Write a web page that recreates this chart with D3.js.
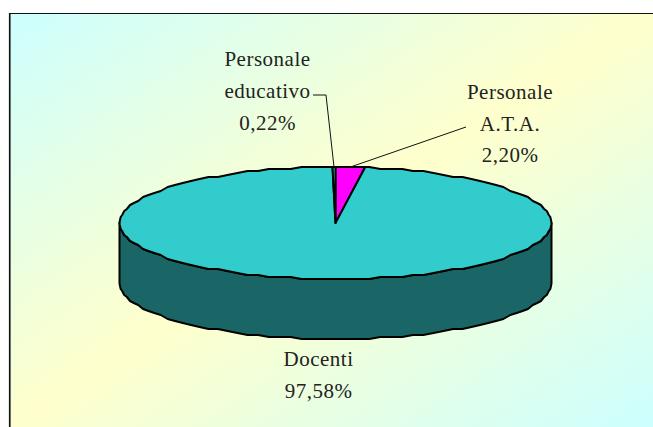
<!DOCTYPE html>
<html><head><meta charset="utf-8">
<script src="https://cdn.jsdelivr.net/npm/d3@7"></script>
<style>html,body{margin:0;padding:0;background:#fff}svg{display:block}
text{font-family:"Liberation Serif",serif;font-size:21px;fill:#222;text-anchor:middle;letter-spacing:.5px}</style>
</head><body><div id="c"></div>
<script>
const categories = ["Personale A.T.A.", "Docenti", "Personale educativo"];
const shares = [2.20, 97.58, 0.22];
const shareLabels = ["2,20%", "97,58%", "0,22%"];
const colors = ["#FF00FF", "#33CCCC", "#33CCCC"];
const sideColor = "#1A6666";

const W = 653, H = 427;
const svg = d3.select("#c").append("svg").attr("width", W).attr("height", H);
const frame = {x: 10, y: 14};
const mid = {x: 331, y: 220}, nrm = {x: .541, y: .841}, reach = 350;
const grad = svg.append("defs").append("linearGradient").attr("id", "bg")
  .attr("gradientUnits", "userSpaceOnUse")
  .attr("x1", mid.x - nrm.x * reach).attr("y1", mid.y - nrm.y * reach)
  .attr("x2", mid.x + nrm.x * reach).attr("y2", mid.y + nrm.y * reach);
grad.selectAll("stop").data([[0, "#CCFFFF"], [.5, "#FFFFCC"], [1, "#CCFFFF"]]).join("stop")
  .attr("offset", d => d[0]).attr("stop-color", d => d[1]);
svg.append("rect").attr("x", frame.x).attr("y", frame.y).attr("width", W).attr("height", H)
  .attr("fill", "url(#bg)");
svg.append("line").attr("x1", frame.x - .5).attr("x2", W).attr("y1", frame.y - .5).attr("y2", frame.y - .5)
  .attr("stroke", "#111").attr("stroke-width", 1.2);
svg.append("line").attr("x1", frame.x - .5).attr("x2", frame.x - .5).attr("y1", frame.y - 1).attr("y2", H)
  .attr("stroke", "#111").attr("stroke-width", 1.2);
svg.append("line").attr("x1", frame.x + .5).attr("x2", frame.x + .5).attr("y1", frame.y).attr("y2", H)
  .attr("stroke", "#667777").attr("stroke-width", 1);

const cx = 335.5, cy = 223, rx = 216, ry = 56, depth = 60, snapY = 2, step = Math.PI / 60;
const px = d3.scaleLinear().domain([-1, 1]).range([cx - rx, cx + rx]);
const py = d3.scaleLinear().domain([-1, 1]).range([cy - ry, cy + ry]);
// the outline sits on a coarse grid, which gives the slightly stepped edge
const rim = a => [px(Math.sin(a)), cy + Math.round((py(-Math.cos(a)) - cy) / snapY) * snapY];
const line = d3.line();
const samples = (a0, a1) => {
  const inner = d3.range(Math.ceil(a0 / step + 1e-6), Math.floor(a1 / step - 1e-6) + 1).map(k => k * step);
  return [a0, ...inner, a1];
};

const pie = d3.pie().sort(null).value(d => d)(shares);

// wall along the front half of the rim
const front = samples(Math.PI / 2, Math.PI * 1.5).map(rim);
const wall = front.concat(front.slice().reverse().map(p => [p[0], p[1] + depth]));
svg.append("path").attr("d", line(wall) + "Z").attr("fill", sideColor)
  .attr("stroke", "#000").attr("stroke-width", 2).attr("stroke-linejoin", "round");

// top faces
svg.selectAll("path.slice").data(pie).join("path").attr("class", "slice")
  .attr("d", d => line([[cx, cy]].concat(samples(d.startAngle, d.endAngle).map(rim))) + "Z")
  .attr("fill", (d, i) => colors[i]).attr("stroke", "#000").attr("stroke-width", 2)
  .attr("stroke-linejoin", "round");

// leader lines
const ata = pie[0], edu = pie[2];
const ataMid = rim((ata.startAngle + ata.endAngle) / 2);
const eduMid = rim((edu.startAngle + edu.endAngle) / 2);
svg.append("path").attr("fill", "none").attr("stroke", "#111").attr("stroke-width", 1)
  .attr("d", line([ataMid, [466, 127]]));
svg.append("path").attr("fill", "none").attr("stroke", "#111").attr("stroke-width", 1)
  .attr("d", line([eduMid, [326, 95], [313, 95]]));

// labels
const labelLines = [
  [["Personale", "A.T.A.", shareLabels[0]], 510, [99, 131, 162]],
  [["Docenti", shareLabels[1]], 318.5, [366, 398]],
  [["Personale", "educativo", shareLabels[2]], 267.5, [66, 98, 130]]
];
labelLines.forEach(([rows, x, ys]) => rows.forEach((t, i) => {
  svg.append("text").attr("x", x).attr("y", ys[i]).text(t);
}));
</script></body></html>
